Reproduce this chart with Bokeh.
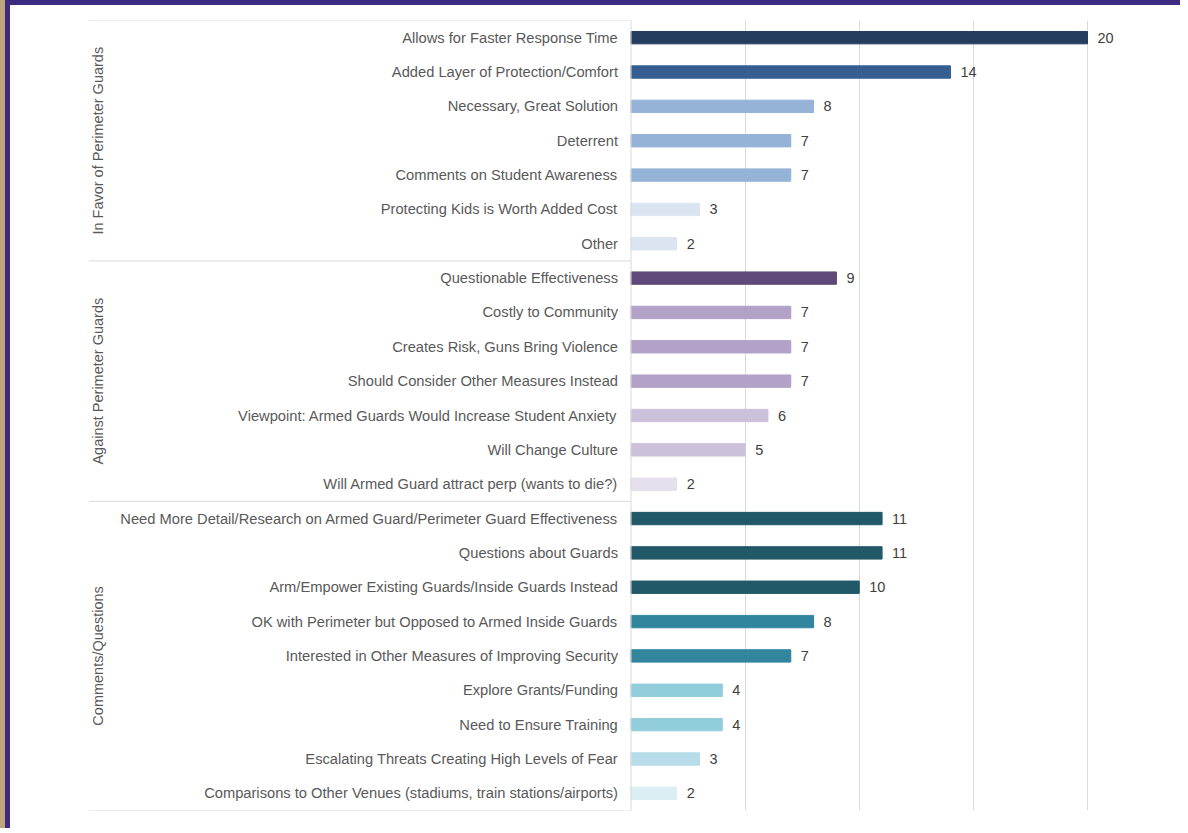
import math
from bokeh.plotting import figure
from bokeh.models import ColumnDataSource, FactorRange, Range1d, FixedTicker, Span
from bokeh.core.properties import value
from bokeh.embed import file_html
from bokeh.resources import INLINE

# ---- data ----
group_names = ["In Favor of Perimeter Guards", "Against Perimeter Guards", "Comments/Questions"]

favor_items = ["Allows for Faster Response Time", "Added Layer of Protection/Comfort",
               "Necessary, Great Solution", "Deterrent", "Comments on Student Awareness",
               "Protecting Kids is Worth Added Cost", "Other"]
favor_values = [20, 14, 8, 7, 7, 3, 2]

against_items = ["Questionable Effectiveness", "Costly to Community",
                 "Creates Risk, Guns Bring Violence", "Should Consider Other Measures Instead",
                 "Viewpoint: Armed Guards Would Increase Student Anxiety", "Will Change Culture",
                 "Will Armed Guard attract perp (wants to die?)"]
against_values = [9, 7, 7, 7, 6, 5, 2]

comment_items = ["Need More Detail/Research on Armed Guard/Perimeter Guard Effectiveness",
                 "Questions about Guards", "Arm/Empower Existing Guards/Inside Guards Instead",
                 "OK with Perimeter but Opposed to Armed Inside Guards",
                 "Interested in Other Measures of Improving Security", "Explore Grants/Funding",
                 "Need to Ensure Training", "Escalating Threats Creating High Levels of Fear",
                 "Comparisons to Other Venues (stadiums, train stations/airports)"]
comment_values = [11, 11, 10, 8, 7, 4, 4, 3, 2]

# ---- styles ----
favor_colors = ["#253d5e", "#365f91", "#95b3d7", "#95b3d7", "#95b3d7", "#dbe5f1", "#dbe5f1"]
against_colors = ["#5f497a", "#b2a2c7", "#b2a2c7", "#b2a2c7", "#ccc1da", "#ccc1da", "#e5e0ec"]
comment_colors = ["#215968", "#215968", "#215968", "#31859c", "#31859c", "#92cddc", "#92cddc",
                  "#b7dee8", "#daeef3"]

groups = [favor_items, against_items, comment_items]
items = favor_items + against_items + comment_items
values = favor_values + against_values + comment_values
colors = favor_colors + against_colors + comment_colors

FONT = "Liberation Sans"
W, H = 1175, 828
scale = 22.825  # px per unit
left_px = 78
x_start = -(620.5 - left_px) / scale
x_end = x_start + (W - left_px) / scale

p = figure(width=W, height=H, output_backend="svg", toolbar_location=None,
           y_range=FactorRange(factors=items[::-1], range_padding=0),
           x_range=Range1d(x_start, x_end),
           min_border_left=left_px, min_border_right=0, min_border_top=15, min_border_bottom=23)
p.outline_line_color = None
p.background_fill_color = "white"
p.border_fill_color = "white"
p.xaxis.visible = False
p.yaxis.visible = False
p.ygrid.grid_line_color = None
p.xgrid.ticker = FixedTicker(ticks=[5, 10, 15, 20])
p.xgrid.grid_line_color = "#d9d9d9"
p.xgrid.grid_line_width = 1
p.styles = {"border-left": "5px solid #3d2b82", "border-top": "5px solid #3d2b82",
            "margin-left": "5px", "box-shadow": "-5px 0 0 0 #bfa57a"}

src = ColumnDataSource(data=dict(y=items, v=values, c=colors, lab=[str(v) for v in values]))

p.hbar(y="y", right="v", left=0, height=0.36, color="c", source=src)

# value labels
p.text(x="v", y="y", text="lab", source=src, x_offset=10, text_align="left",
       text_baseline="middle", text_font=value(FONT), text_font_size="14.5px",
       text_color="#404040")

# item labels
p.text(x=0, y="y", text="y", source=src, x_offset=-13, text_align="right",
       text_baseline="middle", text_font=value(FONT), text_font_size="14.7px",
       text_color="#595959")

# vertical axis line
p.add_layout(Span(location=0, dimension="height", line_color="#d9d9d9", line_width=1))

# group separator lines
sep_y = [(items[0], 0.5)] + [(g[-1], -0.5) for g in groups]
p.segment(x0=[x_start] * len(sep_y), x1=[0] * len(sep_y), y0=sep_y, y1=sep_y,
          line_color="#d9d9d9", line_width=1)

# group labels
mid_items = [g[(len(g) - 1) // 2] for g in groups]
p.text(x=[x_start] * 3, y=mid_items, text=group_names, x_offset=9, angle=math.pi / 2,
       text_align="center", text_baseline="middle", text_font=value(FONT),
       text_font_size="14.5px", text_color="#595959")

open("out.html", "w").write(file_html(p, INLINE))
